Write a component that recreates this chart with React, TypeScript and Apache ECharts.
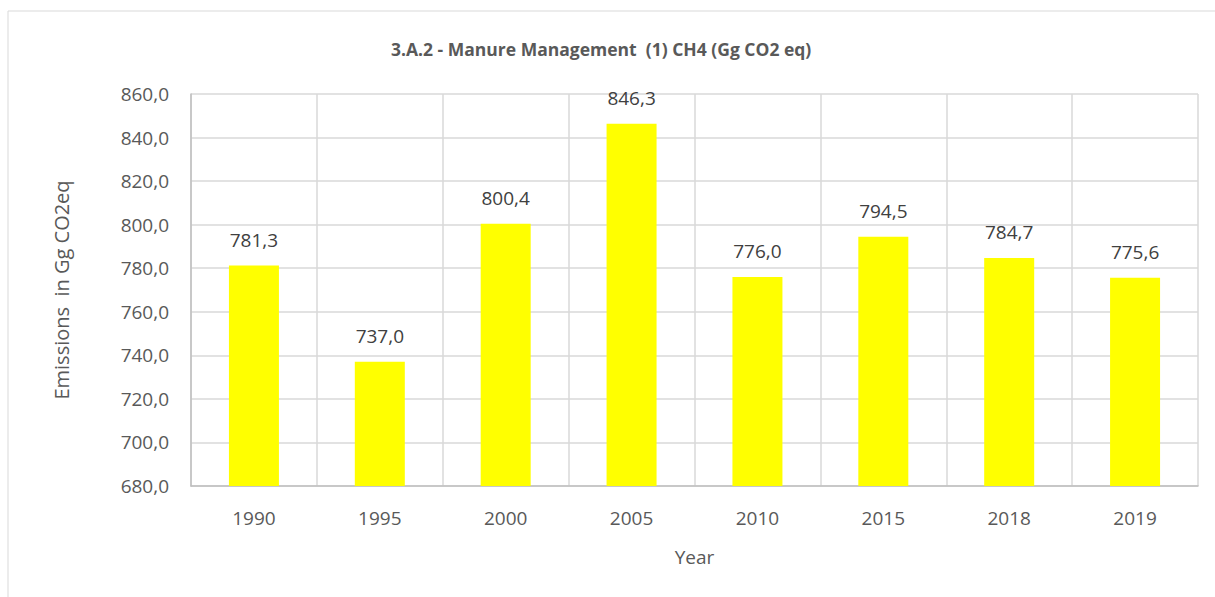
import React, { useEffect, useRef } from "react";
import * as echarts from "echarts";

const years = ["1990", "1995", "2000", "2005", "2010", "2015", "2018", "2019"];
const emissions = [781.3, 737.0, 800.4, 846.3, 776.0, 794.5, 784.7, 775.6];
const titleText = "3.A.2 - Manure Management  (1) CH4 (Gg CO2 eq)";
const yName = "Emissions  in Gg CO2eq";
const xName = "Year";

const fmt = (v: number) => v.toFixed(1).replace(".", ",");
const FONT = "'Open Sans', 'Noto Sans', sans-serif";

export default function App() {
  const ref = useRef<HTMLDivElement>(null);
  useEffect(() => {
    if (!ref.current) return;
    const chart = echarts.init(ref.current, undefined, { renderer: "svg" });
    chart.setOption({
      animation: false,
      backgroundColor: "#ffffff",
      textStyle: { fontFamily: FONT },
      graphic: [
        {
          type: "rect",
          shape: { x: 8, y: 11, width: 1400, height: 800 },
          style: { fill: "none", stroke: "#d9d9d9", lineWidth: 1 },
          silent: true,
          z: -1,
        },
      ],
      title: {
        text: titleText,
        left: 386,
        top: 35,
        textStyle: { fontFamily: FONT, fontSize: 17.5, fontWeight: "bold", color: "#595959" },
      },
      grid: { left: 191, right: 17, top: 94, bottom: 111, containLabel: false },
      xAxis: {
        type: "category",
        data: years,
        name: xName,
        nameLocation: "middle",
        nameGap: 61,
        nameTextStyle: { fontFamily: FONT, fontSize: 19, color: "#595959" },
        axisLine: { lineStyle: { color: "#bfbfbf", width: 1.5 } },
        axisTick: { show: false },
        axisLabel: { fontFamily: FONT, fontSize: 19, color: "#595959", margin: 22 },
        splitLine: { show: true, lineStyle: { color: "#d9d9d9", width: 1.5 } },
      },
      yAxis: {
        type: "value",
        min: 680,
        max: 860,
        interval: 20,
        name: yName,
        nameLocation: "middle",
        nameGap: 120,
        nameTextStyle: { fontFamily: FONT, fontSize: 20, color: "#595959" },
        axisLine: { show: true, lineStyle: { color: "#bfbfbf", width: 1.5 } },
        axisTick: { show: false },
        axisLabel: { fontFamily: FONT, fontSize: 19, color: "#595959", margin: 22, formatter: (v: number) => fmt(v) },
        splitLine: { show: true, lineStyle: { color: "#d9d9d9", width: 1.5 } },
      },
      series: [
        {
          type: "bar",
          data: emissions,
          barWidth: 50,
          itemStyle: { color: "#ffff00" },
          label: {
            show: true,
            position: "top",
            distance: 16,
            fontFamily: FONT,
            fontSize: 19,
            color: "#404040",
            formatter: (p: any) => fmt(p.value),
          },
        },
      ],
    });
    return () => chart.dispose();
  }, []);
  return (
    <div
      ref={ref}
      style={{ position: "fixed", left: 0, top: 0, width: 1215, height: 597 }}
    />
  );
}
